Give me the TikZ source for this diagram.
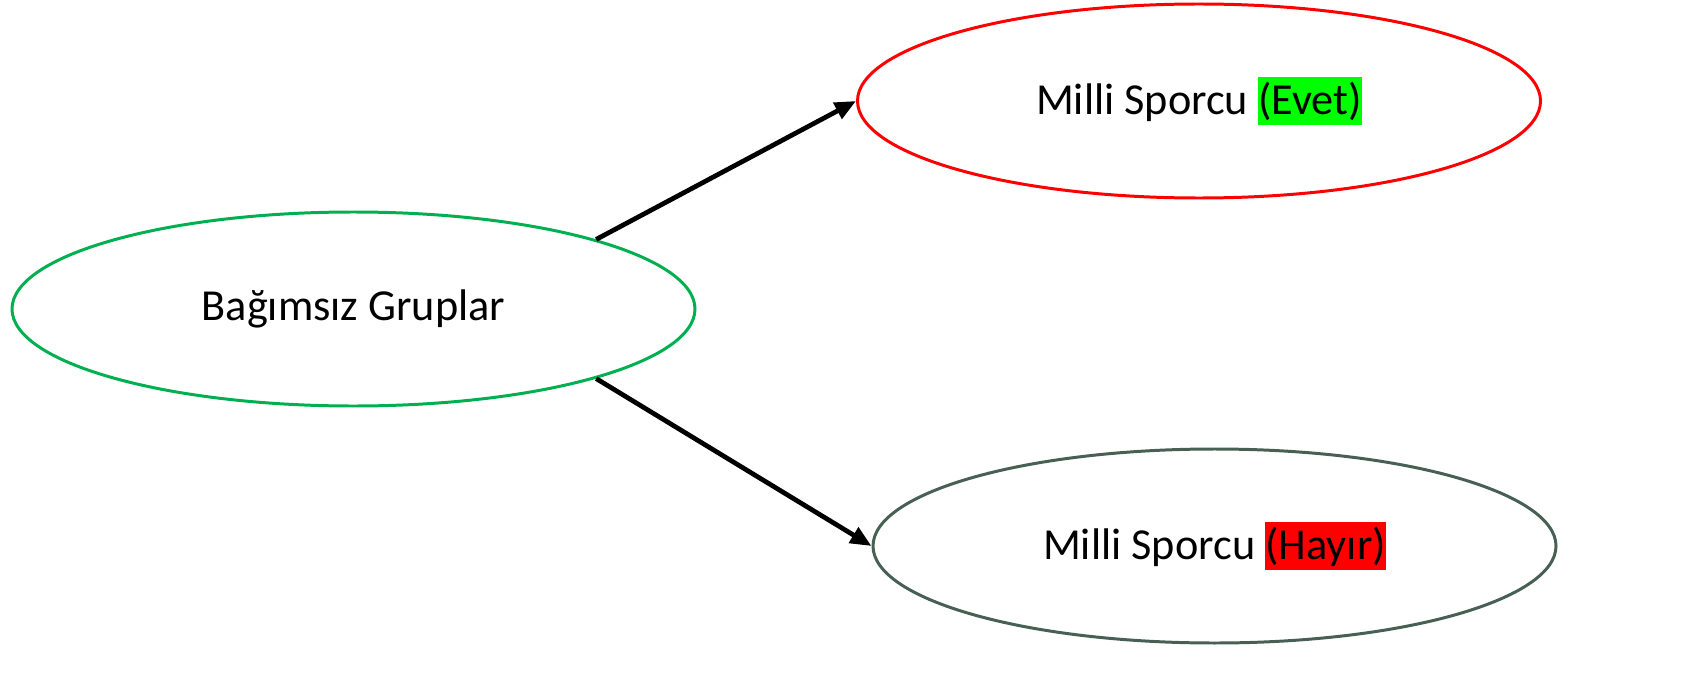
\documentclass[tikz,border=0pt]{standalone}
\usepackage{fontspec}
\setmainfont{Carlito}
\usetikzlibrary{shapes.geometric,arrows.meta}

\definecolor{grupgreen}{RGB}{0,176,80}
\definecolor{hayirgray}{RGB}{71,95,84}
\definecolor{evetbg}{RGB}{0,255,0}
\definecolor{hayirbg}{RGB}{255,0,0}

\newcommand{\vurgu}[2]{{\setlength{\fboxsep}{0pt}\colorbox{#1}{\rule[-2.9pt]{0pt}{13.7pt}#2}}}

\begin{document}
\begin{tikzpicture}[
    grup/.style={ellipse, draw, line width=0.85pt, minimum width=6.83cm, minimum height=1.94cm, inner sep=0pt, font=\fontsize{12.6}{15}\selectfont},
    ok/.style={-{Triangle[length=6pt,width=5pt]}, line width=1.35pt},
]

\useasboundingbox (0,0) rectangle (16.89,6.98);

\node[grup, grupgreen] (G) at (3.535,3.89){\textcolor{black}{Bağımsız Gruplar}};
\node[grup, red] (E) at (11.99,5.97){\textcolor{black}{Milli Sporcu \vurgu{evetbg}{(Evet)}}};
\node[grup, hayirgray] (H) at (12.145,1.52){\textcolor{black}{Milli Sporcu \vurgu{hayirbg}{(Hayır)}}};

\draw [ok] (G.16) -- (E.west);
\draw [ok] (G.-16) -- (H.west);

\end{tikzpicture}
\end{document}
